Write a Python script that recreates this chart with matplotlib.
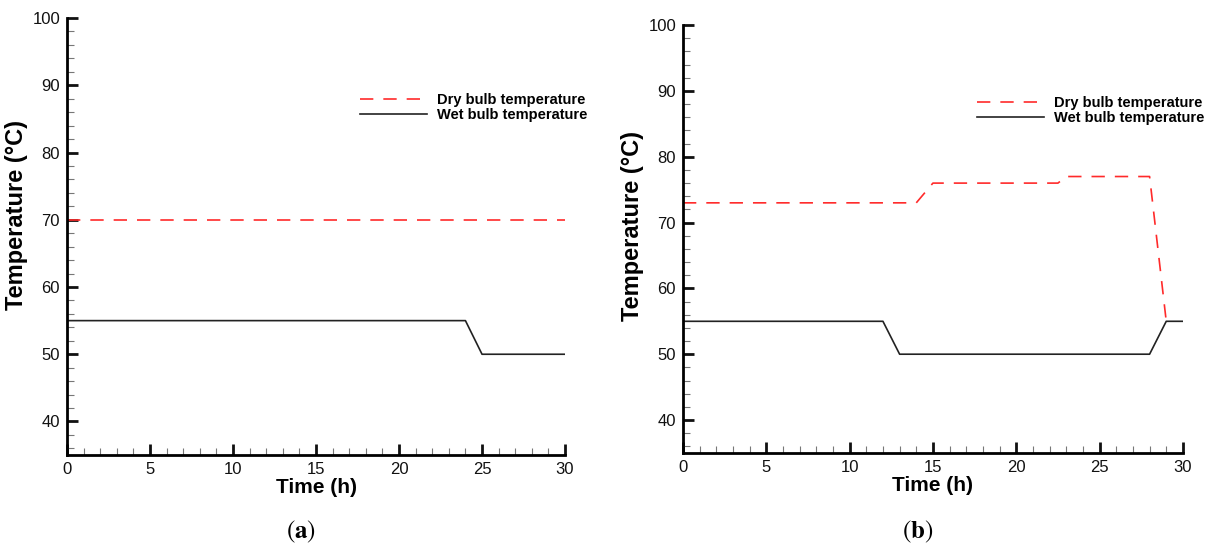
import matplotlib
matplotlib.use('Agg')
import matplotlib.pyplot as plt
from matplotlib.ticker import MultipleLocator

plt.rcParams['font.family'] = ['Liberation Sans', 'DejaVu Sans']
plt.rcParams['mathtext.fontset'] = 'stix'

# case (a): constant dry bulb, wet bulb drops after 24 h
t_dry_a = [0, 30]
dry_a = [70, 70]
t_wet_a = [0, 24, 25, 30]
wet_a = [55, 55, 50, 50]

# case (b): stepped dry bulb, wet bulb dips between 12 h and 29 h
t_dry_b = [0, 14, 15, 22.5, 23, 28, 29]
dry_b = [73, 73, 76, 76, 77, 77, 55]
t_wet_b = [0, 12, 13, 28, 29, 30]
wet_b = [55, 55, 50, 50, 55, 55]

x_ticks = [0, 5, 10, 15, 20, 25, 30]
y_ticks = [40, 50, 60, 70, 80, 90, 100]

fig = plt.figure(figsize=(12.12, 5.47), dpi=100)
ax1 = fig.add_axes([0.0553, 0.168, 0.4109, 0.799])
ax2 = fig.add_axes([0.5635, 0.172, 0.4125, 0.782])

panels = [(ax1, t_dry_a, dry_a, t_wet_a, wet_a, (0.588, 0.829), 0.55, 'a', 0.248),
          (ax2, t_dry_b, dry_b, t_wet_b, wet_b, (0.588, 0.835), 0.53, 'b', 0.757)]

for ax, td, yd, tw, yw, leg_pos, ylab_y, tag, tag_x in panels:
    ax.plot(td, yd, color='#ff2a2a', lw=1.2, linestyle='--', dashes=(8, 6),
            label='Dry bulb temperature')
    ax.plot(tw, yw, color='#222222', lw=1.2, label='Wet bulb temperature')

    ax.set_xlim(0, 30)
    ax.set_ylim(35, 100)
    ax.set_xticks(x_ticks)
    ax.set_yticks(y_ticks)
    ax.xaxis.set_minor_locator(MultipleLocator(1))
    ax.yaxis.set_minor_locator(MultipleLocator(2))

    for side in ['top', 'right']:
        ax.spines[side].set_visible(False)
    for side in ['left', 'bottom']:
        ax.spines[side].set_linewidth(2)

    ax.tick_params(which='major', direction='in', length=8, width=2,
                   labelsize=12, colors='#111111', pad=5)
    ax.tick_params(which='minor', direction='in', length=5, width=0.8,
                   color='#777777')

    ax.set_xlabel('Time (h)', fontsize=15, fontweight='bold', labelpad=1)
    ax.set_ylabel('Temperature (°C)', fontsize=17, fontweight='bold')
    ax.yaxis.set_label_coords(-0.078, ylab_y)

    ax.legend(loc='upper left', bbox_to_anchor=leg_pos, frameon=False,
              handlelength=4.6, handletextpad=0.7, labelspacing=0.1,
              borderaxespad=0, borderpad=0,
              prop={'size': 10.5, 'weight': 'bold'})

    fig.text(tag_x, 0.027, r'$(\mathbf{%s})$' % tag, fontsize=18,
             ha='center', va='center')

fig.savefig('out.png', dpi=100)
